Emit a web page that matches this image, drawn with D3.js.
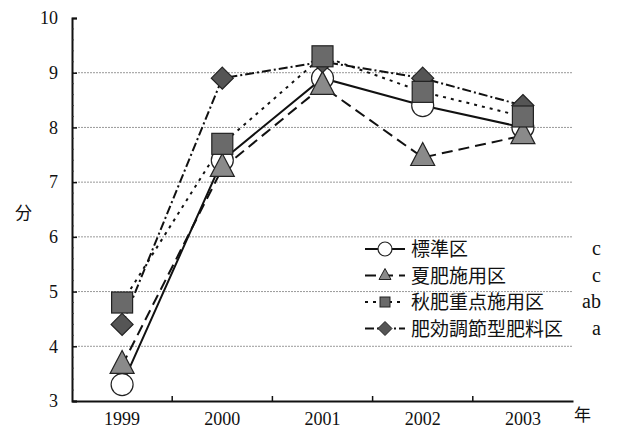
<!DOCTYPE html>
<html><head><meta charset="utf-8">
<script src="https://cdn.jsdelivr.net/npm/d3@7"></script>
<style>
body{margin:0;background:#fff;}
</style></head>
<body><svg id="c" width="617" height="431"></svg>
<script>
const years = ["1999","2000","2001","2002","2003"];
const yTicks = [3,4,5,6,7,8,9,10];
const seriesNames = ["標準区","夏肥施用区","秋肥重点施用区","肥効調節型肥料区"];
const seriesLetters = ["c","c","ab","a"];
const hyojun = [3.3, 7.4, 8.9, 8.4, 8.0];
const natsu = [3.65, 7.25, 8.75, 7.45, 7.85];
const aki = [4.8, 7.7, 9.3, 8.65, 8.2];
const kouka = [4.4, 8.9, 9.2, 8.9, 8.4];
const allValues = [hyojun, natsu, aki, kouka];

const SERIF = "'Liberation Serif','DejaVu Serif',serif";
const CJK = "'Noto Sans CJK JP','Noto Sans CJK SC',sans-serif";

const styles = [
  {dash:null, shape:"circle", fill:"#fff"},
  {dash:"11,6", shape:"triangle", fill:"#8a8a8a"},
  {dash:"3,5", shape:"square", fill:"#6a6a6a"},
  {dash:"9,3,2,3", shape:"diamond", fill:"#555"}
];

const svg = d3.select("#c");
const L=72, R=573, T=18, B=401;
const x = d3.scaleBand().domain(years).range([L,R]);
const y = d3.scaleLinear().domain([3,10]).range([B,T]);
const cx = d => x(d)+x.bandwidth()/2;

// gridlines
svg.append("g").selectAll("line").data(yTicks.filter(t=>t>3&&t<10)).join("line")
  .attr("x1",L).attr("x2",R).attr("y1",d=>y(d)).attr("y2",d=>y(d))
  .attr("stroke","#999").attr("stroke-width",1).attr("stroke-dasharray","2,1");

// y axis
const yAxis = svg.append("g").attr("transform",`translate(${L},0)`)
  .call(d3.axisLeft(y).tickValues(yTicks).tickFormat(d3.format("d")).tickSize(-5).tickPadding(14));
yAxis.select(".domain").attr("stroke","#111").attr("stroke-width",2);
yAxis.selectAll(".tick line").attr("stroke","#111").attr("stroke-width",1.5);
yAxis.selectAll("text").style("font-family",SERIF).attr("font-size",18).attr("fill","#111");
// minor ticks
svg.append("g").selectAll("line").data(d3.range(3,10,0.2).filter(v=>Math.abs(v-Math.round(v))>0.01)).join("line")
  .attr("x1",L).attr("x2",L+2).attr("y1",d=>y(d)).attr("y2",d=>y(d)).attr("stroke","#333").attr("stroke-width",0.8);

// x axis
const xAxis = svg.append("g").attr("transform",`translate(0,${B})`)
  .call(d3.axisBottom(x).tickSize(0).tickPadding(11));
xAxis.select(".domain").attr("stroke","#111").attr("stroke-width",2);
xAxis.selectAll("text").style("font-family",SERIF).attr("font-size",18).attr("fill","#111");
svg.append("g").selectAll("line").data(years.slice(1)).join("line")
  .attr("x1",d=>x(d)).attr("x2",d=>x(d)).attr("y1",B).attr("y2",B-5)
  .attr("stroke","#111").attr("stroke-width",1.5);
svg.append("text").attr("x",574).attr("y",B+20).attr("font-size",17).attr("fill","#111")
  .style("font-family",CJK).text("年");
svg.append("text").attr("x",15).attr("y",219).attr("font-size",17).attr("fill","#111")
  .style("font-family",CJK).text("分");

function marker(g, shape, fill, px, py){
  if(shape==="circle") g.append("circle").attr("cx",px).attr("cy",py).attr("r",11).attr("fill",fill).attr("stroke","#222").attr("stroke-width",1.2);
  else if(shape==="triangle") g.append("path").attr("d",`M${px},${py-15}L${px+12},${py+8}L${px-12},${py+8}Z`).attr("fill",fill).attr("stroke","#222").attr("stroke-width",1.2);
  else if(shape==="square") g.append("rect").attr("x",px-10.5).attr("y",py-10.5).attr("width",21).attr("height",21).attr("fill",fill).attr("stroke","#222").attr("stroke-width",1.2);
  else g.append("path").attr("d",`M${px},${py-11}L${px+11},${py}L${px},${py+11}L${px-11},${py}Z`).attr("fill",fill).attr("stroke","#222").attr("stroke-width",1.2);
}

const line = d3.line().x((d,i)=>cx(years[i])).y(d=>y(d));
allValues.forEach((vals,i)=>{
  svg.append("path").attr("d",line(vals)).attr("fill","none").attr("stroke","#111")
    .attr("stroke-width",2).attr("stroke-dasharray",styles[i].dash);
});
[0,1,3,2].forEach(i=>{
  const g = svg.append("g");
  allValues[i].forEach((v,j)=>marker(g, styles[i].shape, styles[i].fill, cx(years[j]), y(v)));
});

// legend
const lg = svg.append("g");
seriesNames.forEach((n,i)=>{
  const ly = 249 + i*26.5;
  lg.append("line").attr("x1",365).attr("x2",405).attr("y1",ly).attr("y2",ly)
    .attr("stroke","#111").attr("stroke-width",2).attr("stroke-dasharray",styles[i].dash);
  const s = styles[i];
  const g = lg.append("g");
  if(s.shape==="circle") g.append("circle").attr("cx",385).attr("cy",ly).attr("r",7).attr("fill","#fff").attr("stroke","#222").attr("stroke-width",1.2);
  else if(s.shape==="triangle") g.append("path").attr("d",`M385,${ly-7}L391,${ly+4}L379,${ly+4}Z`).attr("fill",s.fill).attr("stroke","#222");
  else if(s.shape==="square") g.append("rect").attr("x",380).attr("y",ly-5).attr("width",10).attr("height",10).attr("fill",s.fill).attr("stroke","#222");
  else g.append("path").attr("d",`M385,${ly-7}L392,${ly}L385,${ly+7}L378,${ly}Z`).attr("fill",s.fill).attr("stroke","#222");
  lg.append("text").attr("x",411).attr("y",ly+7).attr("font-size",19).attr("fill","#111")
    .style("font-family",CJK).text(n);
  lg.append("text").attr("x",601).attr("y",ly+6).attr("font-size",20).attr("text-anchor","end").attr("fill","#111")
    .style("font-family",SERIF).text(seriesLetters[i]);
});
</script></body></html>
